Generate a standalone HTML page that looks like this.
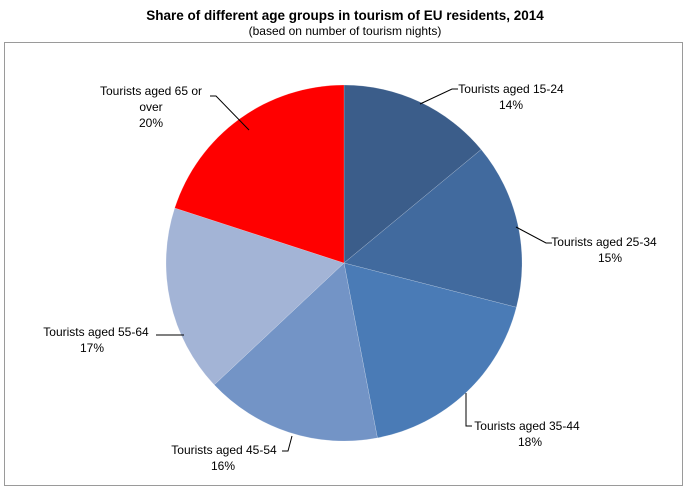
<!DOCTYPE html>
<html><head><meta charset="utf-8"><style>
body{margin:0;background:#fff;width:690px;height:492px;overflow:hidden}
svg text{font-family:"Liberation Sans",sans-serif}
</style></head><body>
<svg width="690" height="492" xmlns="http://www.w3.org/2000/svg">
<text x="345" y="20" text-anchor="middle" font-size="13.5" font-weight="bold" fill="#000">Share of different age groups in tourism of EU residents, 2014</text>
<text x="345" y="35" text-anchor="middle" font-size="12" fill="#000">(based on number of tourism nights)</text>
<rect x="4.5" y="42.5" width="678" height="443" fill="#fff" stroke="#9a9a9a" stroke-width="1"/>
<g stroke="#fff" stroke-width="0.3" stroke-opacity="0.6">
<path d="M344,263 L344,85 A178,178 0 0 1 481.2,149.5 Z" fill="#3b5d8a"/>
<path d="M344,263 L481.2,149.5 A178,178 0 0 1 516.4,307.3 Z" fill="#416a9e"/>
<path d="M344,263 L516.4,307.3 A178,178 0 0 1 377.4,437.9 Z" fill="#4a7bb6"/>
<path d="M344,263 L377.4,437.9 A178,178 0 0 1 214.2,384.8 Z" fill="#7394c6"/>
<path d="M344,263 L214.2,384.8 A178,178 0 0 1 174.7,208 Z" fill="#a3b4d6"/>
<path d="M344,263 L174.7,208 A178,178 0 0 1 344,85 Z" fill="#ff0000"/>
</g>
<g stroke="#000" stroke-width="1" fill="none">
<polyline points="420,104 452,89 458,89"/>
<polyline points="516,227 546,243 552,243"/>
<polyline points="466,393 466,426 472,426"/>
<polyline points="292,436 288,451 282,451"/>
<polyline points="184,335 160,335 156,335"/>
<polyline points="249,130 216,96 210,96"/>
</g>
<g font-size="12" fill="#000" text-anchor="middle">
<text x="511" y="93">Tourists aged 15-24</text><text x="511" y="109">14%</text>
<text x="604" y="246">Tourists aged 25-34</text><text x="610" y="262">15%</text>
<text x="527" y="430">Tourists aged 35-44</text><text x="530" y="446">18%</text>
<text x="224" y="454">Tourists aged 45-54</text><text x="223" y="470">16%</text>
<text x="96" y="336">Tourists aged 55-64</text><text x="92" y="352">17%</text>
<text x="151" y="95">Tourists aged 65 or</text><text x="151" y="111">over</text><text x="151" y="127">20%</text>
</g>
</svg>
</body></html>
